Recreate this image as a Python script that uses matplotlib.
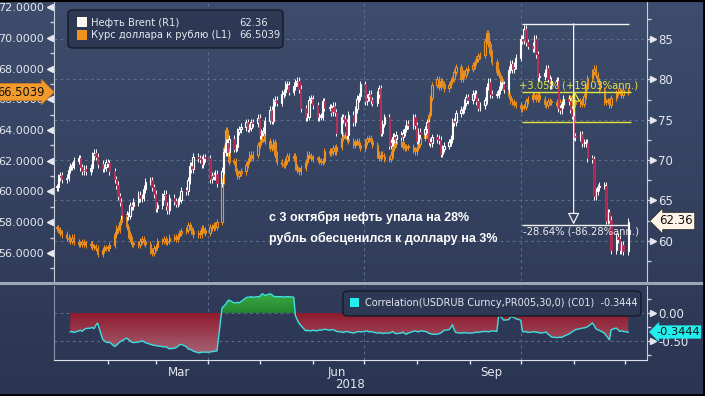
import numpy as np
import pandas as pd
import matplotlib
matplotlib.use('Agg')
import matplotlib.pyplot as plt
import matplotlib.dates as mdates
import matplotlib.transforms as mtransforms
from matplotlib.colors import LinearSegmentedColormap
from matplotlib.patches import FancyBboxPatch, Rectangle
from matplotlib.path import Path
from matplotlib.lines import Line2D

W, H = 705, 396


def fx(px):
    return px / W


def fy(py):
    return 1 - py / H


# Brent daily closes (R1), business days from 2018-01-02
brent_jan = [66.6, 67.8, 68.1, 67.6, 67.8, 68.8, 69.2, 69.3, 69.9, 70.2, 69.1, 68.6, 68.9, 68.6, 69.0, 70.5, 70.9, 70.4, 69.5, 69.0, 69.1, 69.7]
brent_feb = [69.6, 68.6, 67.6, 66.9, 65.5, 64.8, 63.2, 63.0, 63.1, 64.4, 64.3, 64.8, 65.7, 65.3, 65.4, 66.4, 67.3, 67.5, 66.6, 65.8]
brent_mar = [64.0, 64.4, 65.5, 65.8, 64.3, 63.8, 65.3, 64.9, 64.6, 64.9, 65.1, 66.2, 66.1, 67.5, 69.3, 68.9, 70.4, 70.2, 70.1, 69.5, 70.3, 70.2]
brent_apr = [67.6, 68.1, 68.0, 68.3, 67.1, 68.7, 71.0, 72.1, 71.0, 72.6, 71.4, 71.6, 73.5, 73.8, 74.1, 74.7, 73.9, 74.0, 74.7, 74.6, 75.2]
brent_may = [73.1, 73.4, 73.6, 74.9, 76.2, 74.9, 77.2, 77.5, 77.1, 78.2, 78.4, 79.3, 79.3, 78.5, 79.2, 79.6, 79.8, 78.8, 76.4, 75.3, 75.4, 77.5, 77.6]
brent_jun = [76.8, 75.3, 75.4, 75.4, 77.3, 76.5, 76.5, 75.9, 76.7, 75.9, 73.4, 75.3, 75.1, 74.7, 73.1, 75.6, 74.7, 76.3, 77.6, 77.9, 79.4]
brent_jul = [77.3, 77.8, 78.2, 77.4, 77.1, 78.1, 78.9, 73.4, 74.5, 75.3, 71.8, 72.2, 72.9, 72.6, 73.1, 72.9, 73.4, 73.9, 74.5, 74.3, 75.3, 74.3]
brent_aug = [72.4, 73.5, 73.2, 73.8, 74.7, 72.3, 72.1, 72.8, 72.6, 72.5, 70.8, 71.4, 71.8, 72.2, 72.6, 74.8, 74.7, 75.8, 76.2, 76.3, 77.1, 77.8, 77.4]
brent_sep = [78.2, 78.2, 77.3, 76.5, 76.8, 77.4, 79.1, 79.7, 78.2, 78.1, 78.1, 78.7, 79.4, 79.4, 78.8, 81.2, 81.9, 81.3, 81.7, 82.7]
brent_oct = [85.0, 84.8, 86.3, 84.6, 84.2, 83.9, 85.0, 83.1, 80.3, 80.4, 80.8, 81.4, 80.1, 79.3, 79.8, 79.8, 76.4, 76.2, 76.9, 77.6, 77.3, 76.3, 75.5]
brent_nov = [72.9, 72.8, 73.2, 72.1, 72.1, 72.1, 70.2, 70.1, 65.5, 66.1, 66.6, 66.8, 66.8, 62.5, 63.5, 62.6, 58.8, 60.5, 60.2, 58.8, 59.5, 58.7]
brent_dec = [62.36]

# USDRUB daily closes (L1)
rub_jan = [57.6, 57.5, 57.3, 57.2, 57.0, 56.9, 56.8, 57.0, 56.7, 56.6, 56.6, 56.7, 56.6, 56.5, 56.6, 56.4, 56.4, 56.3, 55.9, 56.2, 56.3, 56.3]
rub_feb = [56.3, 56.5, 57.2, 57.6, 57.5, 58.0, 58.5, 57.7, 57.2, 56.9, 56.6, 56.6, 56.5, 56.8, 56.9, 56.7, 56.6, 56.1, 56.0, 56.3]
rub_mar = [56.4, 56.8, 56.8, 56.9, 56.7, 56.8, 57.0, 57.0, 56.9, 57.1, 57.3, 57.4, 57.5, 57.8, 57.7, 57.4, 57.2, 57.3, 57.2, 57.6, 57.5, 57.3]
rub_apr = [57.7, 57.6, 57.8, 57.7, 58.0, 60.7, 62.8, 64.0, 62.6, 61.9, 62.0, 61.3, 61.0, 61.2, 61.3, 61.7, 62.0, 62.4, 62.2, 62.4, 63.0]
rub_may = [63.2, 63.4, 63.7, 63.3, 62.8, 62.9, 63.2, 62.4, 61.9, 61.8, 61.7, 62.0, 62.3, 62.2, 62.3, 61.6, 61.4, 61.3, 61.5, 61.9, 62.4, 62.3, 62.2]
rub_jun = [62.1, 62.1, 62.0, 61.9, 62.0, 62.6, 62.5, 62.6, 62.8, 62.6, 62.9, 63.5, 63.7, 63.6, 63.4, 63.3, 63.0, 63.2, 63.3, 63.0, 62.8]
rub_jul = [63.2, 63.4, 63.5, 63.3, 63.0, 62.4, 62.2, 62.4, 62.3, 62.1, 62.1, 62.4, 62.8, 63.3, 63.1, 63.2, 62.9, 62.8, 62.9, 62.9, 62.7, 62.6]
rub_aug = [62.8, 63.1, 63.5, 63.7, 63.8, 65.0, 66.1, 66.9, 67.3, 66.8, 67.2, 67.0, 66.7, 66.9, 67.2, 67.3, 67.8, 68.1, 67.3, 67.7, 67.6, 67.9, 68.0]
rub_sep = [68.2, 68.4, 68.6, 68.8, 68.9, 69.8, 70.3, 69.6, 69.0, 68.4, 67.8, 67.6, 67.3, 66.9, 66.6, 66.2, 65.9, 65.8, 65.7, 65.6]
rub_oct = [65.4, 65.5, 65.5, 65.9, 66.0, 66.3, 66.2, 66.0, 66.3, 66.0, 65.7, 65.6, 65.9, 65.8, 65.8, 65.6, 65.5, 65.8, 65.6, 65.9, 66.1, 65.9, 65.6]
rub_nov = [65.8, 65.7, 65.9, 65.7, 66.2, 66.8, 67.4, 67.8, 68.0, 67.6, 67.2, 66.6, 65.8, 65.9, 65.9, 65.6, 66.1, 66.4, 66.5, 66.5, 66.3, 66.6]
rub_dec = [66.5039]

# 30-day correlation, business days from 2018-01-10
corr_jan = [-0.34, -0.33, -0.35, -0.32, -0.31, -0.33, -0.30, -0.28, -0.27, -0.26, -0.28, -0.22, -0.18, -0.47, -0.50, -0.52]
corr_feb = [-0.53, -0.52, -0.60, -0.58, -0.55, -0.52, -0.50, -0.45, -0.47, -0.50, -0.52, -0.53, -0.52, -0.51, -0.50, -0.51, -0.53, -0.56, -0.57, -0.58]
corr_mar = [-0.58, -0.59, -0.60, -0.61, -0.60, -0.62, -0.64, -0.63, -0.62, -0.60, -0.57, -0.56, -0.60, -0.64, -0.65, -0.66, -0.68, -0.71, -0.71, -0.70, -0.70, -0.70]
corr_apr = [-0.70, -0.69, -0.69, -0.68, -0.68, 0.09, 0.12, 0.15, 0.20, 0.23, 0.18, 0.18, 0.19, 0.18, 0.20, 0.27, 0.28, 0.28, 0.29, 0.28, 0.29]
corr_may = [0.29, 0.33, 0.34, 0.31, 0.34, 0.33, 0.30, 0.29, 0.29, 0.29, 0.28, 0.29, 0.29, 0.29, 0.28, -0.05, -0.12, -0.18, -0.22, -0.32, -0.31, -0.32, -0.32]
corr_jun = [-0.31, -0.32, -0.30, -0.31, -0.30, -0.29, -0.31, -0.30, -0.30, -0.31, -0.33, -0.34, -0.35, -0.34, -0.33, -0.34, -0.36, -0.35, -0.34, -0.33, -0.34]
corr_jul = [-0.33, -0.32, -0.34, -0.33, -0.34, -0.36, -0.36, -0.35, -0.37, -0.36, -0.36, -0.35, -0.33, -0.36, -0.37, -0.36, -0.34, -0.37, -0.38, -0.36, -0.33, -0.32]
corr_aug = [-0.33, -0.34, -0.32, -0.33, -0.34, -0.36, -0.37, -0.38, -0.38, -0.37, -0.36, -0.34, -0.31, -0.30, -0.26, -0.21, -0.30, -0.35, -0.36, -0.36, -0.35, -0.36, -0.36]
corr_sep = [-0.36, -0.35, -0.34, -0.35, -0.34, -0.33, -0.33, -0.34, -0.33, -0.32, -0.33, -0.07, -0.06, -0.09, -0.13, -0.12, -0.07, -0.07, -0.08, -0.10]
corr_oct = [-0.13, -0.33, -0.34, -0.33, -0.35, -0.34, -0.33, -0.35, -0.34, -0.36, -0.35, -0.34, -0.38, -0.40, -0.43, -0.44, -0.44, -0.43, -0.44, -0.42, -0.38, -0.36, -0.34]
corr_nov = [-0.32, -0.30, -0.28, -0.27, -0.27, -0.26, -0.25, -0.18, -0.22, -0.28, -0.30, -0.31, -0.36, -0.40, -0.44, -0.48, -0.30, -0.27, -0.30, -0.33, -0.32, -0.33]
corr_dec = [-0.3444]

# annotation levels
brent_hi_level, brent_lo_level = 86.9, 62.0
rub_lo_level, rub_hi_level = 64.54, 66.50

brent = np.array(brent_jan + brent_feb + brent_mar + brent_apr + brent_may + brent_jun +
                 brent_jul + brent_aug + brent_sep + brent_oct + brent_nov + brent_dec)
rub = np.array(rub_jan + rub_feb + rub_mar + rub_apr + rub_may + rub_jun +
               rub_jul + rub_aug + rub_sep + rub_oct + rub_nov + rub_dec)
corr = np.array(corr_jan + corr_feb + corr_mar + corr_apr + corr_may + corr_jun +
                corr_jul + corr_aug + corr_sep + corr_oct + corr_nov + corr_dec)

x = mdates.date2num(pd.bdate_range('2018-01-02', periods=len(brent)))
cx = mdates.date2num(pd.bdate_range('2018-01-10', periods=len(corr)))

d = lambda s: mdates.date2num(pd.Timestamp(s))
xmin, xmax = d('2018-01-01') - 0.5, d('2018-12-14')

TXT = '#e4e7ee'
SPINE = '#c8ccd6'
GRID = '#5d6d8c'

fig = plt.figure(figsize=(7.05, 3.96), dpi=100)

# background gradient
bg = fig.add_axes([0, 0, 1, 1], zorder=-10)
bg.imshow(np.linspace(1, 0, 256).reshape(-1, 1), aspect='auto', extent=[0, 1, 0, 1],
          cmap=LinearSegmentedColormap.from_list('bg', ['#2a3552', '#3e4d6d']))
bg.axis('off')

ax = fig.add_axes([fx(54), fy(281), fx(647) - fx(54), 281 / H])
ax2 = ax.twinx()
ax3 = fig.add_axes([fx(54), fy(360), fx(647) - fx(54), (360 - 286) / H])

for a in (ax, ax2, ax3):
    a.set_facecolor('none')
    for s in a.spines.values():
        s.set_visible(False)

ax.set_ylim(54.17, 72.46)
ax2.set_ylim(55.0, 89.85)


def candles(axis, xs, close, wick, col, dn_face, dn_edge, z):
    opn = np.r_[close[0], close[:-1]]
    top = np.maximum(opn, close)
    bot = np.minimum(opn, close)
    body = np.maximum(top - bot, wick * 0.3)
    up = close >= opn
    axis.vlines(xs, top, top + wick, color=col, lw=0.7, zorder=z)
    axis.vlines(xs, bot - wick, bot, color=col, lw=0.7, zorder=z)
    axis.bar(xs[up], body[up], bottom=bot[up], width=0.8, facecolor='none',
             edgecolor=col, lw=0.8, zorder=z)
    axis.bar(xs[~up], body[~up], bottom=bot[~up], width=0.8, facecolor=dn_face,
             edgecolor=dn_edge, lw=0.6, zorder=z)


# gridlines (follow right axis) drawn under everything
gtr = mtransforms.blended_transform_factory(ax.transAxes, ax2.transData)
for v in [60, 65, 70, 75, 80, 85]:
    ax.plot([0, 1], [v, v], transform=gtr, color=GRID, lw=0.8, ls=(0, (2.5, 3)), zorder=0)
for m in ['2018-04-01', '2018-07-01', '2018-10-01']:
    ax.axvline(d(m), color=GRID, lw=0.8, ls=(0, (2.5, 3)), zorder=0)
    ax3.axvline(d(m), color=GRID, lw=0.8, ls=(0, (2.5, 3)), zorder=0)
for v in [0, -0.5]:
    ax3.axhline(v, color=GRID, lw=0.8, ls=(0, (2.5, 3)), zorder=0)

candles(ax, x, rub, 0.2, '#f0921e', '#e0861c', '#f0921e', 2)
candles(ax2, x, brent, 0.45, '#ffffff', '#b0204c', '#c0305a', 2)

for a in (ax, ax2):
    a.set_xlim(xmin, xmax)
    a.tick_params(axis='x', which='both', length=0, labelbottom=False)

# left axis
ax.spines['left'].set_visible(True)
ax.spines['left'].set_color(SPINE)
ax.set_yticks(np.arange(56, 73, 2))
ax.set_yticklabels([f'{v:.4f}' for v in np.arange(56, 73, 2)])
ax.set_yticks(np.arange(55, 72, 2), minor=True)
ax.tick_params(axis='y', which='major', length=4, width=1, color=SPINE, labelcolor=TXT, labelsize=8, pad=3)
ax.tick_params(axis='y', which='minor', length=3, width=1, color=SPINE)
ax.plot(np.full(9, -4.5 / 593), np.arange(56, 73, 2), ls='none', marker='<', ms=4, color=TXT,
        transform=ax.get_yaxis_transform(), clip_on=False)

# right axis
ax2.spines['right'].set_visible(True)
ax2.spines['right'].set_color(SPINE)
ax2.set_yticks([60, 65, 70, 75, 80, 85])
ax2.set_yticklabels(['60', '65', '70', '75', '80', '85'])
ax2.set_yticks(np.arange(57.5, 89, 5), minor=True)
ax2.tick_params(axis='y', which='major', length=5, width=1, color=SPINE, labelcolor=TXT, labelsize=8.5, pad=3)
ax2.tick_params(axis='y', which='minor', length=3, width=1, color=SPINE)
ax2.plot(np.full(6, 1 + 5.5 / 593), [60, 65, 70, 75, 80, 85], ls='none', marker='>', ms=4, color=TXT,
         transform=ax2.get_yaxis_transform(), clip_on=False)

# annotation: Brent drop (white) and USDRUB rise (yellow)
xl, xr, xv = d('2018-10-02'), d('2018-12-03') + 0.5, d('2018-11-01')
ax2.hlines([brent_hi_level, brent_lo_level], xl, xr, color='#f2f2f2', lw=1, zorder=5)
ax2.annotate('', xy=(xv, brent_lo_level), xytext=(xv, brent_hi_level), zorder=5,
             arrowprops=dict(arrowstyle='-|>,head_length=0.7,head_width=0.35', ec='#f2f2f2',
                             fc='#34415f', lw=0.9, shrinkA=0, shrinkB=0))
ax.hlines([rub_lo_level, rub_hi_level], xl, xr + 1, color='#e4e43a', lw=1, zorder=6)
ax.annotate('', xy=(xv + 0.6, rub_hi_level), xytext=(xv + 0.6, rub_lo_level), zorder=6,
            arrowprops=dict(arrowstyle='-|>,head_length=0.6,head_width=0.35', ec='#e4e43a',
                            fc='none', lw=0.9, shrinkA=0, shrinkB=0))
fig.text(fx(579), fy(85), '+3.05% (+19.03%ann.)', color='#e4e43a', fontsize=7.2, ha='center', va='center', zorder=7)
fig.text(fx(581), fy(231), '-28.64% (-86.28%ann.)', color='#ececec', fontsize=7.2, ha='center', va='center', zorder=7)

# correlation panel
ax3.plot(cx, corr, color='#3ee0e0', lw=1.0, zorder=4)


def grad_fill(axis, xs, ys, mask, y0, y1, c0, c1):
    coll = axis.fill_between(xs, ys, 0, where=mask, interpolate=True, facecolor='none', edgecolor='none')
    path = Path.make_compound_path(*coll.get_paths())
    im = axis.imshow(np.linspace(0, 1, 256).reshape(-1, 1), aspect='auto', origin='lower',
                     extent=[xs[0], xs[-1], y0, y1], zorder=2,
                     cmap=LinearSegmentedColormap.from_list('g', [c0, c1]))
    im.set_clip_path(path, transform=axis.transData)


grad_fill(ax3, cx, corr, corr <= 0, -0.8, 0, '#aa6a7e', '#8e1b2d')
grad_fill(ax3, cx, corr, corr >= 0, 0, 0.38, '#23852f', '#3cae48')

ax3.set_xlim(xmin, xmax)
ax3.set_ylim(-0.84, 0.48)
ax3.spines['left'].set_visible(True)
ax3.spines['left'].set_color('#8c94a8')
ax3.spines['bottom'].set_visible(True)
ax3.spines['bottom'].set_color('#dde0e6')
ax3.spines['right'].set_visible(True)
ax3.spines['right'].set_color(SPINE)
ax3.yaxis.tick_right()
ax3.set_yticks([0, -0.5])
ax3.set_yticklabels(['0.00', '-0.50'])
ax3.set_yticks([0.25, -0.25, -0.75], minor=True)
ax3.tick_params(axis='y', which='major', length=5, width=1, color=SPINE, labelcolor=TXT, labelsize=8.5, pad=3)
ax3.tick_params(axis='y', which='minor', length=3, width=1, color=SPINE)
ax3.plot(np.full(2, 1 + 5.5 / 593), [0, -0.5], ls='none', marker='>', ms=4, color=TXT,
         transform=ax3.get_yaxis_transform(), clip_on=False)

month_starts = [d(f'2018-{m:02d}-01') for m in range(2, 13)]
ax3.set_xticks(month_starts)
ax3.set_xticklabels([])
ax3.set_xticks([d('2018-03-15'), d('2018-06-15'), d('2018-09-14')], minor=True)
ax3.set_xticklabels(['Mar', 'Jun', 'Sep'], minor=True)
ax3.tick_params(axis='x', which='major', length=3, width=1, color='#dde0e6', direction='out')
ax3.tick_params(axis='x', which='minor', length=0, labelcolor=TXT, labelsize=8.5, pad=4)
fig.text(fx(350), fy(385), '2018', color=TXT, fontsize=8.5, ha='center', va='center')

# value labels on the axes
fig.text(fx(45), fy(92), '66.5039', ha='right', va='center', fontsize=8.3, color='#111111', zorder=10,
         bbox=dict(boxstyle='rarrow,pad=0.18', fc='#f39a2c', ec='#c87a20', lw=0.6))
fig.text(fx(659), fy(221), '62.36', ha='left', va='center', fontsize=8.5, color='#111111', zorder=10,
         bbox=dict(boxstyle='larrow,pad=0.18', fc='#fff4e8', ec='#333333', lw=0.6))
fig.text(fx(656), fy(332), '-0.3444', ha='left', va='center', fontsize=8.2, color='#111111', zorder=10,
         bbox=dict(boxstyle='larrow,pad=0.1', fc='#22eeee', ec='#22eeee', lw=0.6))

# legends
fig.add_artist(FancyBboxPatch((fx(68), fy(48)), fx(283) - fx(68), 38 / H,
                              boxstyle='round,pad=0,rounding_size=0.008', fc='#2c3854', ec='#161a28',
                              lw=1, transform=fig.transFigure, zorder=8))
fig.add_artist(Rectangle((fx(77), fy(27)), 10 / W, 10 / H, fc='#fff8f0', ec='none', transform=fig.transFigure, zorder=9))
fig.add_artist(Rectangle((fx(77), fy(40)), 10 / W, 10 / H, fc='#f0921e', ec='none', transform=fig.transFigure, zorder=9))
fig.text(fx(91), fy(22.5), 'Нефть Brent (R1)', color=TXT, fontsize=7.2, va='center', zorder=9)
fig.text(fx(91), fy(35.5), 'Курс доллара к рублю (L1)', color=TXT, fontsize=7.2, va='center', zorder=9)
fig.text(fx(239), fy(22.5), '62.36', color=TXT, fontsize=7.2, va='center', zorder=9)
fig.text(fx(239), fy(35.5), '66.5039', color=TXT, fontsize=7.2, va='center', zorder=9)

fig.add_artist(FancyBboxPatch((fx(343), fy(316)), fx(641) - fx(343), 25 / H,
                              boxstyle='round,pad=0,rounding_size=0.008', fc='#2c3854', ec='#161a28',
                              lw=1, transform=fig.transFigure, zorder=8))
fig.add_artist(Rectangle((fx(350), fy(307)), 9 / W, 9 / H, fc='#22eeee', ec='none', transform=fig.transFigure, zorder=9))
fig.text(fx(365), fy(303), 'Correlation(USDRUB Curncy,PR005,30,0) (C01)  -0.3444', color=TXT, fontsize=7,
         va='center', zorder=9)

# comment text
fig.text(fx(269), fy(217), 'с 3 октября нефть упала на 28%', color='white', fontsize=9,
         fontfamily='Liberation Sans', fontweight='bold', va='center', zorder=9)
fig.text(fx(269), fy(238), 'рубль обесценился к доллару на 3%', color='white', fontsize=9,
         fontfamily='Liberation Sans', fontweight='bold', va='center', zorder=9)

# panel separator and frame
fig.add_artist(Line2D([0, 1], [fy(283), fy(283)], color='#9ea6b6', lw=2.2, transform=fig.transFigure, zorder=9))
fig.add_artist(Line2D([0, 1], [fy(0.5), fy(0.5)], color='#000000', lw=1.5, transform=fig.transFigure, zorder=9))
fig.add_artist(Line2D([fx(703.5), fx(703.5)], [0, 1], color='#000000', lw=2, transform=fig.transFigure, zorder=9))
fig.add_artist(Line2D([0, 1], [fy(395), fy(395)], color='#000000', lw=2, transform=fig.transFigure, zorder=9))

fig.savefig('out.png', dpi=100, facecolor='#2e3a58')
